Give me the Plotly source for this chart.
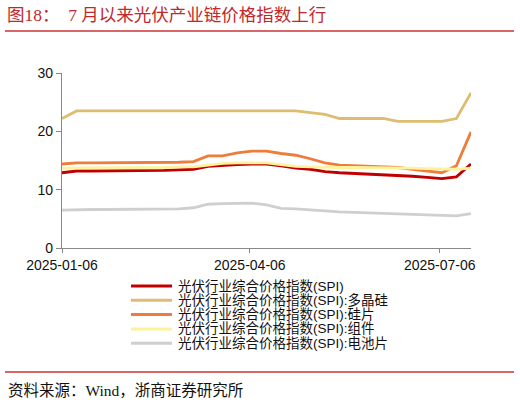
import plotly.graph_objects as go

# 周度日期
dates = ['2025-01-06', '2025-01-13', '2025-01-20', '2025-01-27', '2025-02-03',
         '2025-02-10', '2025-02-17', '2025-02-24', '2025-03-03', '2025-03-10',
         '2025-03-17', '2025-03-24', '2025-03-31', '2025-04-07', '2025-04-14',
         '2025-04-21', '2025-04-28', '2025-05-05', '2025-05-12', '2025-05-19',
         '2025-05-26', '2025-06-02', '2025-06-09', '2025-06-16', '2025-06-23',
         '2025-06-30', '2025-07-07', '2025-07-14', '2025-07-21']

spi = [12.9, 13.2, 13.2, 13.2, 13.2, 13.2, 13.2, 13.3, 13.4, 13.5,
       14.0, 14.2, 14.3, 14.4, 14.4, 14.1, 13.7, 13.5, 13.1, 12.9,
       12.8, 12.7, 12.6, 12.5, 12.3, 12.1, 11.9, 12.2, 14.4]
duojinggui = [22.2, 23.5, 23.5, 23.5, 23.5, 23.5, 23.5, 23.5, 23.5, 23.5,
              23.5, 23.5, 23.5, 23.5, 23.5, 23.5, 23.5, 23.2, 22.9, 22.2,
              22.2, 22.2, 22.2, 21.7, 21.7, 21.7, 21.7, 22.2, 26.6]
guipian = [14.4, 14.6, 14.6, 14.6, 14.6, 14.6, 14.6, 14.7, 14.7, 14.8,
           15.8, 15.8, 16.3, 16.6, 16.6, 16.2, 15.9, 15.3, 14.6, 14.2,
           14.1, 14.1, 14.0, 13.8, 13.5, 13.2, 12.9, 14.1, 19.9]
zujian = [13.7, 13.7, 13.7, 13.7, 13.7, 13.7, 13.7, 13.8, 13.9, 13.9,
          14.2, 14.5, 14.6, 14.6, 14.6, 14.3, 14.0, 13.9, 13.8, 13.8,
          13.8, 13.8, 13.7, 13.7, 13.7, 13.6, 13.5, 13.5, 13.7]
dianchipian = [6.5, 6.6, 6.6, 6.6, 6.6, 6.6, 6.6, 6.6, 6.7, 6.9,
               7.5, 7.6, 7.7, 7.7, 7.4, 6.8, 6.7, 6.5, 6.3, 6.2,
               6.1, 6.0, 5.9, 5.9, 5.7, 5.6, 5.5, 5.5, 5.9]

noms = ['光伏行业综合价格指数(SPI)',
        '光伏行业综合价格指数(SPI):多晶硅',
        '光伏行业综合价格指数(SPI):硅片',
        '光伏行业综合价格指数(SPI):组件',
        '光伏行业综合价格指数(SPI):电池片']
series = [spi, duojinggui, guipian, zujian, dianchipian]
couleurs = ['#C00000', '#DDBD70', '#EE7D3C', '#FFF29C', '#CFCFCF']

tick_vals = ['2025-01-06', '2025-04-06', '2025-07-06']
tick_text = ['2025-01-06', '2025-04-06', '2025-07-06']

W, H = 520, 402
L, R, T, B = 62, 471, 73, 248


def px_x(p):
    return (p - L) / (R - L)


def px_y(p):
    return (B - p) / (B - T)


fig = go.Figure()
for nom, vals, c in zip(noms, series, couleurs):
    fig.add_trace(go.Scatter(x=dates, y=vals, name=nom, mode='lines',
                             line=dict(color=c, width=2.8)))

# légende dessinée à la main (hauteur de ligne plus serrée que plotly)
shapes = []
annots = []
for i, (nom, c) in enumerate(zip(noms, couleurs)):
    yy = 286 + i * 14.3
    shapes.append(dict(type='line', xref='paper', yref='paper',
                       x0=px_x(131), x1=px_x(172), y0=px_y(yy), y1=px_y(yy),
                       line=dict(color=c, width=3)))
    annots.append(dict(text=nom, xref='paper', yref='paper',
                       x=px_x(176), y=px_y(yy), xanchor='left', yanchor='middle',
                       showarrow=False,
                       font=dict(family='Liberation Sans, Noto Sans CJK SC', size=13.5, color='#111')))

rouge = '#CC3333'
shapes.append(dict(type='line', xref='paper', yref='paper',
                   x0=px_x(5), x1=px_x(514), y0=px_y(31), y1=px_y(31),
                   line=dict(color=rouge, width=1.5)))
shapes.append(dict(type='line', xref='paper', yref='paper',
                   x0=px_x(5), x1=px_x(514), y0=px_y(372), y1=px_y(372),
                   line=dict(color=rouge, width=1.5)))

annots.append(dict(text='图18：  7 月以来光伏产业链价格指数上行', xref='paper', yref='paper',
                   x=px_x(5), y=px_y(15), xanchor='left', yanchor='middle', showarrow=False,
                   font=dict(family='Liberation Serif, Noto Sans CJK SC', size=17.5, color='#C0282D')))
annots.append(dict(text='资料来源：Wind，浙商证券研究所', xref='paper', yref='paper',
                   x=px_x(6), y=px_y(390), xanchor='left', yanchor='middle', showarrow=False,
                   font=dict(family='Liberation Serif, Noto Sans CJK SC', size=15.5, color='#111')))

fig.update_layout(
    width=W, height=H,
    margin=dict(l=L, r=W - R, t=T, b=H - B),
    paper_bgcolor='white', plot_bgcolor='white',
    showlegend=False,
    shapes=shapes, annotations=annots,
    font=dict(family='Liberation Sans, Arial', size=14, color='#111'),
)
fig.update_xaxes(type='date', range=['2025-01-06', '2025-07-21'],
                 tickvals=tick_vals, ticktext=tick_text,
                 showgrid=False, zeroline=False,
                 showline=True, linecolor='#888', linewidth=1.3,
                 ticks='outside', ticklen=4, tickcolor='#888',
                 tickfont=dict(size=14, color='#111'))
fig.update_yaxes(range=[0, 30], tickvals=[0, 10, 20, 30],
                 showgrid=False, zeroline=False,
                 showline=True, linecolor='#888', linewidth=1.3,
                 ticks='outside', ticklen=5, tickcolor='#888',
                 tickfont=dict(size=14, color='#111'))

# pas de marge de page autour du graphique
fig.write_html('out.html', config={'displayModeBar': False},
               post_script="document.body.style.margin='0';")
